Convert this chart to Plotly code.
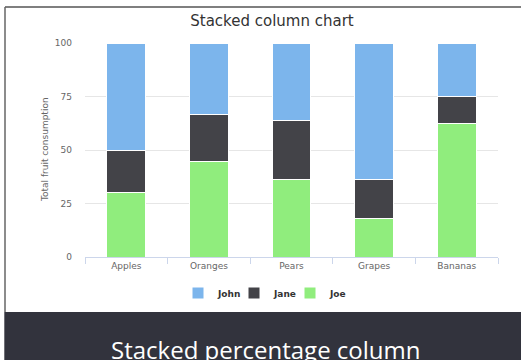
import plotly.graph_objects as go

categories = ["Apples", "Oranges", "Pears", "Grapes", "Bananas"]
john = [5, 3, 4, 7, 2]
jane = [2, 2, 3, 2, 1]
joe = [3, 4, 4, 2, 5]
y_ticks = [0, 25, 50, 75, 100]

W, H = 521, 360
L, R, T, B = 85, 23, 43, 103
PW, PH = W - L - R, H - T - B


def px_x(p):
    return (p - L) / PW


def px_y(p):
    return (H - B - p) / PH


fig = go.Figure()
series = [("Joe", joe, "#90ed7d"), ("Jane", jane, "#434348"), ("John", john, "#7cb5ec")]
for name, vals, col in series:
    fig.add_trace(go.Bar(
        x=categories, y=vals, name=name,
        marker=dict(color=col, line=dict(color="white", width=1)),
    ))

fig.update_layout(
    width=W, height=H,
    margin=dict(l=L, r=R, t=T, b=B),
    barmode="stack", barnorm="percent", bargap=0.53,
    paper_bgcolor="white", plot_bgcolor="white",
    title=dict(text="Stacked column chart", x=px_x(272), xref="paper", xanchor="center",
               y=1 - 21 / H, yanchor="middle",
               font=dict(family="DejaVu Sans", size=15, color="#333333")),
    showlegend=True,
    legend=dict(orientation="h", traceorder="reversed", x=px_x(262), xanchor="center",
                y=px_y(293), yanchor="middle",
                font=dict(family="DejaVu Sans", size=9, color="#333333", weight="bold"),
                itemwidth=30, entrywidth=11, entrywidthmode="pixels"),
    font=dict(family="DejaVu Sans", size=9, color="#666666"),
)
fig.update_xaxes(showline=True, linecolor="#ccd6eb", linewidth=1, ticks="outside",
                 tickson="boundaries", ticklen=6, tickcolor="#ccd6eb",
                 showgrid=False, tickfont=dict(size=9, color="#666666"))
fig.update_yaxes(range=[0, 100], tickvals=y_ticks, showgrid=True, gridcolor="#e6e6e6",
                 gridwidth=1, zeroline=False, showline=False, ticks="",
                 ticklabelstandoff=12, tickfont=dict(size=9, color="#666666"))

fig.add_annotation(text="Total fruit consumption", textangle=-90, xref="paper", yref="paper",
                   x=px_x(45), y=0.5, showarrow=False, xanchor="center", yanchor="middle",
                   font=dict(family="DejaVu Sans", size=9, color="#666666"))

# frame (top and left edges) and bottom band, kept inside the page
fig.add_shape(type="line", xref="paper", yref="paper", x0=px_x(5), x1=px_x(W),
              y0=px_y(7), y1=px_y(7), line=dict(color="#555555", width=1.5), layer="below")
fig.add_shape(type="line", xref="paper", yref="paper", x0=px_x(5), x1=px_x(5),
              y0=px_y(7), y1=px_y(312), line=dict(color="#666666", width=1.5), layer="below")
fig.add_shape(type="rect", xref="paper", yref="paper", x0=px_x(4.3), x1=px_x(W),
              y0=px_y(H), y1=px_y(312), line=dict(width=0),
              fillcolor="#32333d", layer="above")
fig.add_annotation(text="Stacked percentage column", xref="paper", yref="paper",
                   x=px_x(266), y=px_y(331), xanchor="center", yanchor="top",
                   showarrow=False,
                   font=dict(family="Open Sans", size=24, color="white"))

fig.write_html("out.html", config={"displayModeBar": False})
